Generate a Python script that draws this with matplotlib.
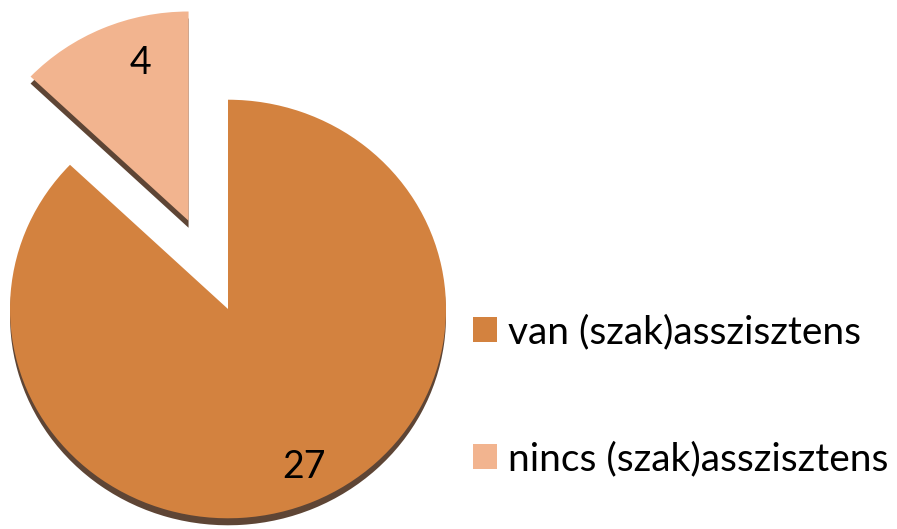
import matplotlib
matplotlib.use("Agg")
import matplotlib.pyplot as plt
import numpy as np

categories = ["van (szak)asszisztens", "nincs (szak)asszisztens"]
values = [27, 4]
colors = ["#D3823F", "#F2B48F"]
shadow_color = "#5E4535"

plt.rcParams['font.family'] = ['Lato', 'DejaVu Sans']

W, H = 897, 529
fig = plt.figure(figsize=(W / 100, H / 100), dpi=100)
ax = fig.add_axes([0, 0, 1, 1])
k = 0.96  # vertical squash for slight 3D tilt

R = 218
cx, cy = 228, (H - 309) / k
expl = [0, 100]
depth = 7 / k

# side / shadow layer
ax.pie(values, radius=R, center=(cx, cy - depth), explode=expl,
       startangle=90, counterclock=False, colors=[shadow_color] * 2,
       wedgeprops=dict(linewidth=0), frame=True)

wedges, _, autotexts = ax.pie(
    values, radius=R, center=(cx, cy), explode=expl,
    startangle=90, counterclock=False, colors=colors,
    wedgeprops=dict(linewidth=0),
    autopct=lambda p: f"{round(p * sum(values) / 100):d}",
    pctdistance=0.82, frame=True,
    textprops=dict(fontsize=27, color='black'))

ax.set_aspect('auto')
ax.set_xlim(0, W)
ax.set_ylim(0, H / k)
ax.axis('off')

# nudge small-slice label toward where the reference shows it
x4, y4 = autotexts[1].get_position()
autotexts[1].set_position((x4 + 22, y4))
for t in autotexts:
    t.set_ha('center'); t.set_va('center')
x27, y27 = autotexts[0].get_position()
autotexts[0].set_position((x27 + 6, y27))

fs = 28
fspx = fs * 100 / 72
leg = fig.legend(wedges, categories, loc='center left',
                 bbox_to_anchor=(473 / W, (H - 396) / H),
                 frameon=False, fontsize=fs, borderpad=0, borderaxespad=0,
                 handlelength=24 / fspx, handleheight=24 / fspx,
                 handletextpad=11 / fspx, labelspacing=2.34)

fig.savefig("out.png", dpi=100)
